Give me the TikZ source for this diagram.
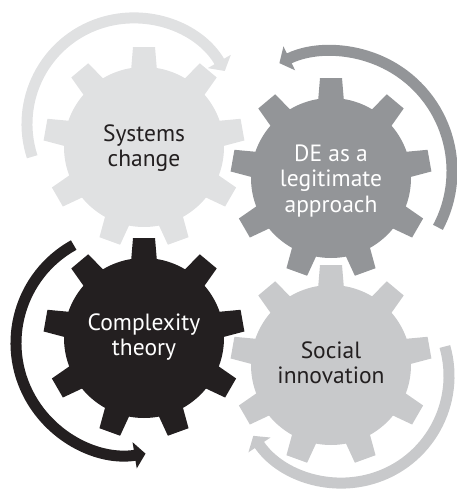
\documentclass[tikz,border=0pt]{standalone}
\usepackage{fontspec}
\setmainfont{PT Sans}
\usetikzlibrary{arrows.meta}
\definecolor{gA}{HTML}{E0E1E2}
\definecolor{gB}{HTML}{939598}
\definecolor{gC}{HTML}{231F20}
\definecolor{gD}{HTML}{C8C9CB}
\tikzset{
  gearlabel/.style={align=center, font=\fontsize{23.5}{25.5}\selectfont, inner sep=0pt},
  cyc/.style={line width=11pt, -{Triangle[width=26pt,length=11pt]}},
}
\newcommand\geardraw[3]{%
  \fill[#3] (#1,#2) circle (80);
  \foreach \a in {90,130,...,410} {
    \fill[#3, shift={(#1,#2)}, rotate=\a-90] (-13.5,70) -- (-11,100) -- (11,100) -- (13.5,70) -- cycle;
  }
}
\begin{document}
\begin{tikzpicture}[x=1pt,y=1pt]
\useasboundingbox (0,0) rectangle (457,-491);
% gears
\geardraw{144}{-147}{gA}
\geardraw{331}{-178}{gB}
\geardraw{144}{-338}{gC}
\geardraw{331}{-365}{gD}
% cycle arrows
\draw[cyc, gA] ([shift={(198:106)}]133,-124) arc[start angle=198, end angle=30, radius=106];
\draw[cyc, gB] ([shift={(-28:120)}]332,-171) arc[start angle=-28, end angle=116, radius=120];
\draw[cyc, gC] ([shift={(119:112)}]128,-343) arc[start angle=119, end angle=279, radius=112];
\draw[cyc, gD] ([shift={(16:107)}]342,-376) arc[start angle=16, end angle=-146, radius=107];
% labels
\node[gearlabel, text=gC] (sys) at (144,-148) {Systems\\change};
\node[gearlabel, text=white] (de) at (331,-181) {DE as a\\legitimate\\approach};
\node[gearlabel, text=white] (cx) at (144,-337) {Complexity\\theory};
\node[gearlabel, text=gC] (soc) at (331,-363) {Social\\innovation};
\end{tikzpicture}
\end{document}
